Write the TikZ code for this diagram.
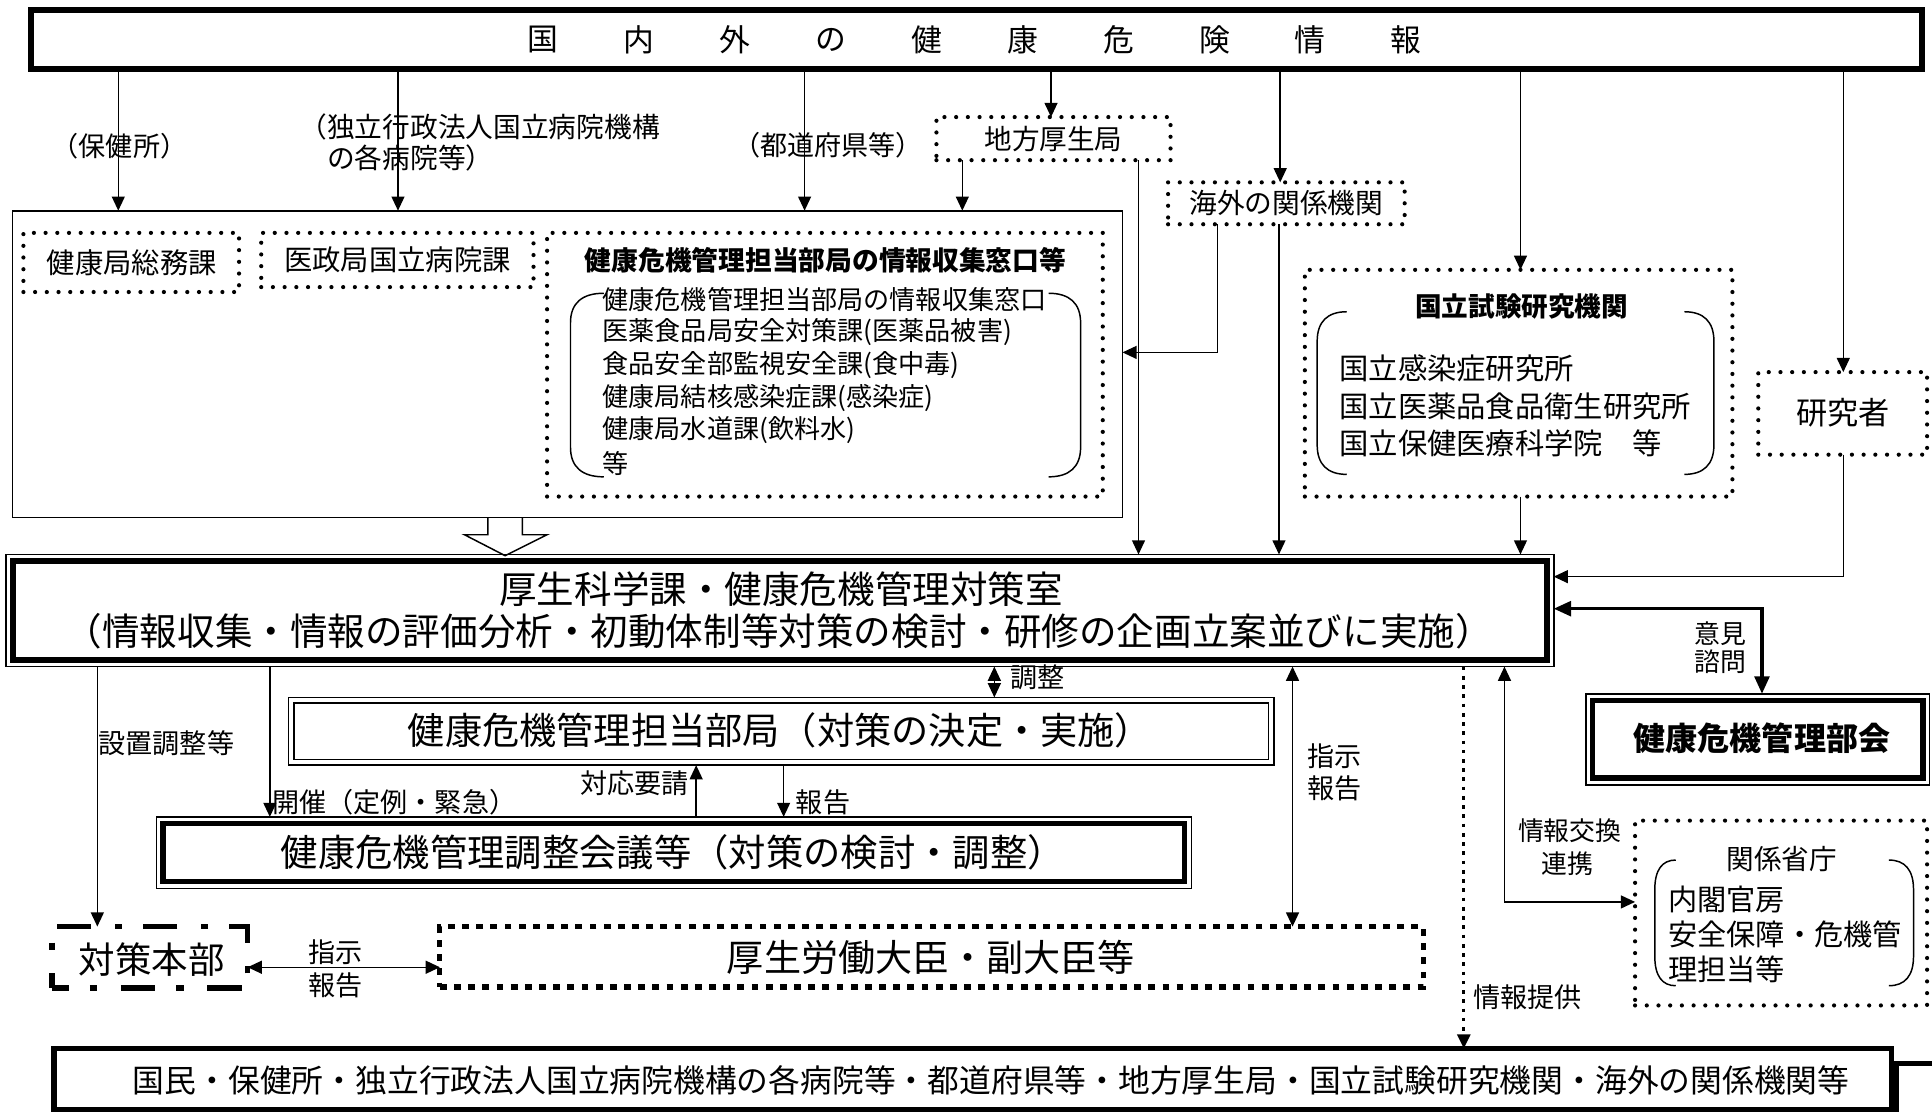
\documentclass[tikz,border=0pt]{standalone}
\usepackage{fontspec}
\setmainfont{Noto Sans CJK JP}
\usetikzlibrary{arrows.meta}
\newcommand\fsz[1]{\fontsize{#1pt}{#1pt}\selectfont}
\newcommand\mybrL[4]{% xl xr yt yb
  \draw[conn] (#2,#3) .. controls ({#1+0.35*(#2-#1)},#3) and (#1,{#3+8}) .. (#1,{#3+24}) -- (#1,{#4-24}) .. controls (#1,{#4-8}) and ({#1+0.35*(#2-#1)},#4) .. (#2,#4);}
\newcommand\mybrR[4]{% xhook xouter yt yb
  \draw[conn] (#1,#3) .. controls ({#1+0.65*(#2-#1)},#3) and (#2,{#3+8}) .. (#2,{#3+24}) -- (#2,{#4-24}) .. controls (#2,{#4-8}) and ({#1+0.65*(#2-#1)},#4) .. (#1,#4);}
\begin{document}
\begin{tikzpicture}[x=1pt,y=-1pt,
  every node/.style={inner sep=0pt, outer sep=0pt},
  >={Triangle[length=11.5pt,width=10.5pt]},
  conn/.style={line width=1.2pt},
  arr/.style={conn,->},
  darr/.style={conn,<->},
  thinbox/.style={draw, line width=1.3pt},
  dotbox/.style={draw, line width=3.4pt, line cap=round, dash pattern=on 0pt off 9.5pt},
  sqdotbox/.style={draw, line width=4.2pt, dash pattern=on 5.5pt off 6pt},
  dashdotbox/.style={draw, line width=4.6pt, dash pattern=on 28pt off 17pt on 6pt off 19pt, dash phase=14pt},
  thickbox/.style={draw, line width=4.5pt},
  lbl/.style={font=\fsz{22}},
  slbl/.style={font=\fsz{21}},
]
\useasboundingbox (0,0) rectangle (1568,902);
\fill[white] (0,0) rectangle (1568,902);
\clip (0,0) rectangle (1568,902);

% ---------- top ----------
\node[thickbox, minimum width=1535pt, minimum height=48pt] (top) at (792.5,32) {};
\foreach \c [count=\i from 0] in {国,内,外,の,健,康,危,険,情,報}
  \node[font=\fsz{25}] (tt\i) at ({441+77.8*\i},32) {\c};

\node[lbl] (lhok) at (97,119) {（保健所）};
\node[font=\fsz{22.5}, anchor=west] (ldok1) at (243,103) {（独立行政法人国立病院機構};
\node[font=\fsz{22.5}, anchor=west] (ldok2) at (243,128) {　の各病院等）};
\node[lbl] (ltodo) at (672,118) {（都道府県等）};

\node[dotbox, minimum width=190pt, minimum height=35pt] (chiho) at (855,112.5) {};
\node[font=\fsz{22.4}] (tchiho) at (855,113) {地方厚生局};
\node[dotbox, minimum width=192pt, minimum height=34pt] (kaigai) at (1044,165) {};
\node[font=\fsz{22.5}] (tkaigai) at (1044,165) {海外の関係機関};

% ---------- left outer box ----------
\node[thinbox, minimum width=901pt, minimum height=249pt] (outer) at (460.5,295.5) {};
\node[dotbox, minimum width=175pt, minimum height=48pt] (soumu) at (106.5,213) {};
\node[font=\fsz{23}] (tsoumu) at (107,213) {健康局総務課};
\node[dotbox, minimum width=221pt, minimum height=44pt] (isei) at (322.5,211) {};
\node[font=\fsz{23}] (tisei) at (322.5,211) {医政局国立病院課};
\node[dotbox, minimum width=451pt, minimum height=214pt] (mado) at (669.5,296) {};
\node[font=\fsz{21.7}\bfseries] (tmado) at (670,211) {健康危機管理担当部局の情報収集窓口等};
\foreach \t [count=\i from 0] in {健康危機管理担当部局の情報収集窓口,医薬食品局安全対策課(医薬品被害),食品安全部監視安全課(食中毒),健康局結核感染症課(感染症),健康局水道課(飲料水),等}
  \node[font=\fsz{21.2}, anchor=west] (ml\i) at (489,{243+26.6*\i}) {\t};
\mybrL{463}{490}{238}{387}
\mybrR{851}{877}{238}{387}

% ---------- right upper ----------
\node[dotbox, minimum width=347pt, minimum height=184pt] (koku) at (1232.5,311) {};
\node[font=\fsz{21.6}\bfseries] (tkoku) at (1235,249) {国立試験研究機関};
\foreach \t [count=\i from 0] in {国立感染症研究所,国立医薬品食品衛生研究所,国立保健医療科学院　等}
  \node[font=\fsz{23.8}, anchor=west] (kl\i) at (1087,{299+30.5*\i}) {\t};
\mybrL{1069}{1093}{253}{385}
\mybrR{1367}{1391}{253}{385}

\node[dotbox, minimum width=137pt, minimum height=67pt] (kenkyu) at (1495.5,335.5) {};
\node[font=\fsz{25.3}] (tkenkyu) at (1496,335) {研究者};

% ---------- main box ----------
\node[thinbox, minimum width=1256pt, minimum height=91pt] (main) at (633,495.5) {};
\draw[line width=4.5pt] ([shift={(5.5,5.5)}]main.north west) rectangle ([shift={(-5.5,-5.5)}]main.south east);
\node[font=\fsz{30.5}] (mt1) at (634,478) {厚生科学課・健康危機管理対策室};
\node[font=\fsz{30.5}] (mt2) at (632,512) {（情報収集・情報の評価分析・初動体制等対策の検討・研修の企画立案並びに実施）};

% hollow block arrow
\draw[conn] (396,420) -- (396,434) -- (377,434) -- (410,451) -- (444,434) -- (424,434) -- (424,420);

% ---------- lower boxes ----------
\node[draw, line width=1.3pt, minimum width=800pt, minimum height=55pt] (tanto) at (634,593.5) {};
\draw[line width=1.3pt] ([shift={(4.5,4.5)}]tanto.north west) rectangle ([shift={(-4.5,-4.5)}]tanto.south east);
\node[font=\fsz{30.2}] (ttanto) at (633,593) {健康危機管理担当部局（対策の決定・実施）};

\node[draw, line width=1.3pt, minimum width=840pt, minimum height=58pt] (chosei) at (547,692) {};
\draw[line width=4.5pt] ([shift={(5.5,5.5)}]chosei.north west) rectangle ([shift={(-5.5,-5.5)}]chosei.south east);
\node[font=\fsz{30.3}] (tchosei) at (546,692) {健康危機管理調整会議等（対策の検討・調整）};

\node[draw, line width=1.3pt, minimum width=279pt, minimum height=74pt] (bukai) at (1426.5,600) {};
\draw[line width=4.5pt] ([shift={(5.5,5.5)}]bukai.north west) rectangle ([shift={(-5.5,-5.5)}]bukai.south east);
\node[font=\fsz{26}\bfseries] (tbukai) at (1430,599) {健康危機管理部会};

\node[dotbox, minimum width=237pt, minimum height=150pt] (kankei) at (1445.5,741) {};
\node[font=\fsz{22.4}] (tkankei) at (1446,697) {関係省庁};
\foreach \t [count=\i from 0] in {内閣官房,安全保障・危機管,理担当等}
  \node[font=\fsz{23.7}, anchor=west] (kk\i) at (1354,{730+28.5*\i}) {\t};
\mybrL{1343}{1360}{698}{800}
\mybrR{1533}{1553}{698}{800}

\node[dashdotbox, minimum width=159pt, minimum height=50pt] (honbu) at (121.5,777) {};
\node[font=\fsz{29.6}] (thonbu) at (123,779) {対策本部};
\node[sqdotbox, minimum width=798pt, minimum height=49pt] (daijin) at (756,776.5) {};
\node[font=\fsz{30.1}] (tdaijin) at (755.5,777) {厚生労働大臣・副大臣等};

\node[thickbox, minimum width=1491pt, minimum height=50pt] (bottom) at (789.5,876) {};
\node[font=\fsz{25.8}] (tbottom) at (804.5,877) {国民・保健所・独立行政法人国立病院機構の各病院等・都道府県等・地方厚生局・国立試験研究機関・海外の関係機関等};
\draw[line width=4pt] (1539,863) rectangle (1620,960);

% ---------- connectors (upper) ----------
\draw[arr] (top.south -| 96,0) -- (outer.north -| 96,0);
\draw[arr] (top.south -| 323,0) -- (outer.north -| 323,0);
\draw[arr] (top.south -| 653,0) -- (outer.north -| 653,0);
\draw[arr] (top.south -| 853,0) -- (chiho.north -| 853,0);
\draw[arr] (chiho.south -| 781,0) -- (outer.north -| 781,0);
\draw[arr] (chiho.south -| 924,0) -- (main.north -| 924,0);
\draw[arr] (top.south -| 1039,0) -- (kaigai.north -| 1039,0);
\draw[arr] (kaigai.south -| 988,0) |- (outer.east |- 0,286);
\draw[arr] (kaigai.south -| 1038,0) -- (main.north -| 1038,0);
\draw[arr] (top.south -| 1234,0) -- (koku.north -| 1234,0);
\draw[arr] (koku.south -| 1234,0) -- (main.north -| 1234,0);
\draw[arr] (top.south -| 1496,0) -- (kenkyu.north -| 1496,0);
\draw[arr] (kenkyu.south -| 1496,0) |- (main.east |- 0,468);
\draw[line width=2.5pt, {Triangle[length=14pt,width=12pt]}-{Triangle[length=14pt,width=12pt]}] (main.east |- 0,494) -| (bukai.north -| 1430,0);
\node[slbl] (liken) at (1396,514) {意見};
\node[slbl] (lshimon) at (1396,537) {諮問};

% ---------- connectors (lower) ----------
\draw[darr] (main.south -| 807,0) -- (tanto.north -| 807,0);
\node[lbl, anchor=west] (lchosei) at (820,550) {調整};
\draw[arr] (chosei.north -| 565,0) -- (tanto.south -| 565,0);
\node[lbl, anchor=east] (ltaio) at (559,636) {対応要請};
\draw[arr] (tanto.south -| 636,0) -- (chosei.north -| 636,0);
\node[lbl, anchor=west] (lhoukoku) at (646,651) {報告};
\draw[arr] (main.south -| 219,0) -- (chosei.north -| 219,0);
\node[lbl, anchor=west] (lkaisai) at (221,651) {開催（定例・緊急）};
\draw[arr] (main.south -| 79,0) -- (honbu.north -| 79,0);
\node[lbl, anchor=west] (lsetchi) at (80,603) {設置調整等};
\draw[darr] (main.south -| 1049,0) -- (daijin.north -| 1049,0);
\node[lbl, anchor=west] (lshiji1) at (1061,614) {指示};
\node[lbl, anchor=west] (lhoukoku1) at (1061,640) {報告};
\draw[line width=2.2pt, dash pattern=on 3pt off 4.5pt, ->] (main.south -| 1188,0) -- (bottom.north -| 1188,0);
\node[lbl, anchor=west] (lteikyo) at (1196,809) {情報提供};
\draw[darr] (main.south -| 1221,0) |- (kankei.west |- 0,732);
\node[slbl] (lkokan) at (1274,674) {情報交換};
\node[slbl] (lrenkei) at (1272,701) {連携};
\draw[darr] (honbu.east |- 0,785) -- (daijin.west |- 0,785);
\node[lbl] (lshiji2) at (272,773) {指示};
\node[lbl] (lhoukoku2) at (272,800) {報告};
\end{tikzpicture}
\end{document}
